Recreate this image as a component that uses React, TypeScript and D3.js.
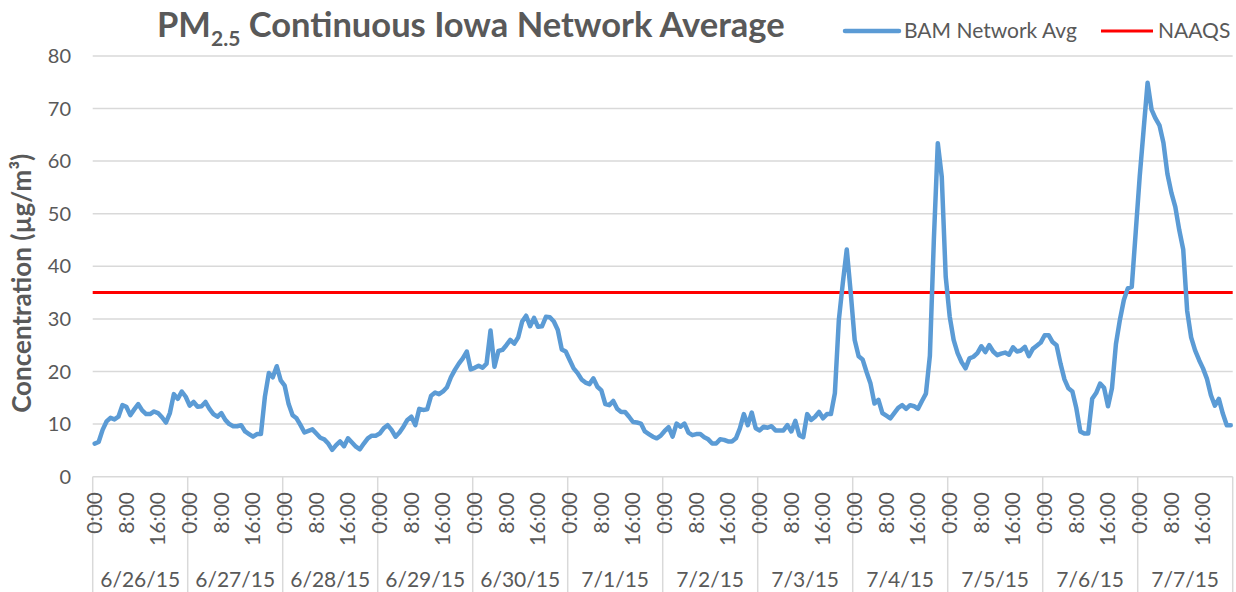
import React from 'react';
import * as d3 from 'd3';

// hourly BAM network average, one array per day (µg/m3)
const jun26 = [6.3, 6.6, 8.9, 10.5, 11.2, 10.9, 11.4, 13.6, 13.3, 11.7, 12.8, 13.8, 12.6, 11.9, 11.9, 12.4, 12.1, 11.3, 10.3, 12.1, 15.7, 14.8, 16.2, 15.2];
const jun27 = [13.5, 14.2, 13.3, 13.4, 14.2, 12.9, 11.9, 11.4, 12.1, 10.8, 10.0, 9.6, 9.6, 9.8, 8.6, 8.1, 7.6, 8.1, 8.1, 15.2, 19.7, 18.9, 21.0, 18.3];
const jun28 = [17.3, 13.8, 11.7, 11.1, 9.8, 8.4, 8.7, 9.0, 8.2, 7.4, 7.1, 6.3, 5.1, 6.0, 6.7, 5.8, 7.3, 6.5, 5.7, 5.2, 6.3, 7.3, 7.8, 7.8];
const jun29 = [8.2, 9.2, 9.8, 8.9, 7.6, 8.4, 9.5, 10.8, 11.4, 9.8, 12.9, 12.7, 12.8, 15.4, 16.0, 15.7, 16.2, 17.0, 18.9, 20.3, 21.5, 22.5, 23.8, 20.4];
const jun30 = [20.7, 21.1, 20.7, 21.5, 27.8, 20.9, 23.9, 24.1, 25.0, 26.0, 25.3, 26.5, 29.5, 30.6, 28.6, 30.2, 28.5, 28.6, 30.4, 30.3, 29.5, 27.9, 24.2, 23.8];
const jul1 = [22.2, 20.6, 19.7, 18.5, 17.9, 17.6, 18.7, 17.1, 16.4, 13.8, 13.6, 14.4, 12.9, 12.3, 12.3, 11.4, 10.4, 10.3, 10.1, 8.6, 8.1, 7.6, 7.3, 7.8];
const jul2 = [8.7, 9.4, 7.6, 10.1, 9.5, 10.1, 8.4, 7.9, 8.1, 8.1, 7.5, 7.1, 6.3, 6.3, 7.1, 7.0, 6.7, 6.7, 7.3, 9.2, 11.9, 9.8, 12.2, 9.2];
const jul3 = [8.8, 9.5, 9.3, 9.6, 8.8, 8.8, 8.8, 9.8, 8.6, 10.6, 7.9, 7.5, 11.9, 10.8, 11.4, 12.3, 11.1, 11.9, 11.9, 15.9, 29.8, 36.8, 43.2, 35.0];
const jul4 = [26.0, 22.9, 22.3, 19.9, 17.7, 13.9, 14.6, 12.1, 11.6, 11.1, 12.1, 13.1, 13.6, 12.9, 13.6, 13.4, 12.9, 14.4, 15.8, 23.0, 45.0, 63.4, 57.0, 38.0];
const jul5 = [30.5, 26.0, 23.5, 21.8, 20.6, 22.5, 22.8, 23.5, 24.8, 23.7, 25.0, 23.8, 23.1, 23.4, 23.6, 23.2, 24.6, 23.8, 24.0, 24.7, 22.9, 24.3, 24.9, 25.5];
const jul6 = [26.9, 26.9, 25.6, 25.0, 21.5, 18.5, 16.8, 16.2, 13.0, 8.6, 8.2, 8.2, 14.8, 15.9, 17.7, 16.9, 13.4, 16.8, 25.2, 29.8, 33.6, 35.8, 36.1, 46.5];
const jul7 = [57.0, 66.0, 74.9, 69.8, 68.1, 66.8, 63.5, 57.6, 54.0, 51.3, 46.9, 43.2, 31.5, 26.5, 24.0, 22.2, 20.6, 18.6, 15.5, 13.5, 14.8, 12.0, 9.8, 9.8];

const dates = ['6/26/15', '6/27/15', '6/28/15', '6/29/15', '6/30/15', '7/1/15', '7/2/15', '7/3/15', '7/4/15', '7/5/15', '7/6/15', '7/7/15'];
const hourLabels = ['0:00', '8:00', '16:00'];
const yTicks = [0, 10, 20, 30, 40, 50, 60, 70, 80];
const NAAQS = 35;

const days = [jun26, jun27, jun28, jun29, jun30, jul1, jul2, jul3, jul4, jul5, jul6, jul7];

const FONT = 'Lato, "Open Sans", sans-serif';
const GREY = '#595959';

const App = () => {
  const W = 1236, H = 592;
  const left = 92.7, right = 1232.7, top = 55.9, bottom = 476.7;

  const values = days.flat();
  const idx = d3.range(values.length);

  const x = d3.scaleBand<number>().domain(idx).range([left, right]).padding(0);
  const cx = (i: number) => x(i)! + x.bandwidth() / 2;
  const y = d3.scaleLinear().domain([0, 80]).range([bottom, top]);

  const line = d3.line<number>()
    .x((_, i) => cx(i))
    .y(d => y(d));

  const dayW = x.bandwidth() * 24;

  return (
    <svg width={W} height={H} style={{ position: 'absolute', left: 0, top: 0, background: '#fff' }} fontFamily={FONT}>
      {/* gridlines */}
      {yTicks.map(t => (
        <line key={t} x1={left} x2={right} y1={y(t)} y2={y(t)} stroke="#d9d9d9" strokeWidth={1.5} />
      ))}
      {yTicks.map(t => (
        <text key={'l' + t} x={71} y={y(t)} dy="0.35em" textAnchor="end" fontSize={20} fill={GREY}>{t}</text>
      ))}

      {/* day dividers */}
      {d3.range(days.length + 1).map(k => (
        <line key={'d' + k} x1={left + k * dayW} x2={left + k * dayW} y1={bottom} y2={H} stroke="#d9d9d9" strokeWidth={1.5} />
      ))}

      {/* hour labels */}
      {days.map((_, k) => hourLabels.map((lab, j) => {
        const i = k * 24 + j * 8;
        return (
          <text key={k + '-' + j} transform={`translate(${cx(i)},492) rotate(-90)`} textAnchor="end" dy="0.35em" fontSize={21} fill={GREY}>{lab}</text>
        );
      }))}

      {/* date labels */}
      {dates.map((d, k) => (
        <text key={d} x={left + k * dayW + dayW / 2} y={587} textAnchor="middle" fontSize={21} fill={GREY}>{d}</text>
      ))}

      {/* NAAQS */}
      <line x1={left} x2={right} y1={y(NAAQS)} y2={y(NAAQS)} stroke="#ff0000" strokeWidth={3} />

      {/* BAM series */}
      <path d={line(values) || ''} fill="none" stroke="#5b9bd5" strokeWidth={4.5} strokeLinejoin="round" strokeLinecap="round" />

      {/* y axis title */}
      <text transform={`translate(31,${(top + bottom) / 2 + 17}) rotate(-90)`} textAnchor="middle" fontSize={26} fontWeight="bold" fill={GREY}>
        Concentration (µg/m³)
      </text>

      {/* title */}
      <text x={157} y={37} fontSize={34.5} fontWeight="bold" fill={GREY}>
        PM<tspan dy={9} fontSize={21}>2.5</tspan><tspan dy={-9}> Continuous Iowa Network Average</tspan>
      </text>

      {/* legend */}
      <line x1={845} x2={899} y1={31} y2={31} stroke="#5b9bd5" strokeWidth={4.5} strokeLinecap="round" />
      <text x={904} y={38} fontSize={21} fill={GREY}>BAM Network Avg</text>
      <line x1={1101} x2={1153} y1={31} y2={31} stroke="#ff0000" strokeWidth={3} />
      <text x={1158} y={38} fontSize={21} fill={GREY}>NAAQS</text>
    </svg>
  );
};

export default App;
